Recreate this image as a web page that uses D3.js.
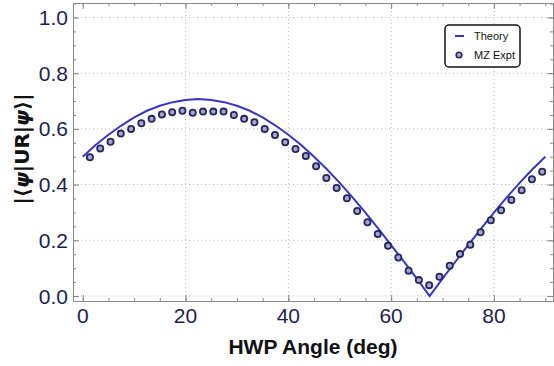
<!DOCTYPE html>
<html>
<head>
<meta charset="utf-8">
<script src="https://cdn.jsdelivr.net/npm/d3@7"></script>
<style>
  body { margin: 0; background: #fff; }
  svg { display: block; }
</style>
</head>
<body>
<svg id="svg" width="554" height="366"></svg>
<script>
// theory curve, sampled every 2.5 deg
const theoryAngles = [0, 2.5, 5, 7.5, 10, 12.5, 15, 17.5, 20, 22.5, 25, 27.5, 30, 32.5, 35, 37.5, 40, 42.5, 45,
  47.5, 50, 52.5, 55, 57.5, 60, 62.5, 65, 67.5, 70, 72.5, 75, 77.5, 80, 82.5, 85, 87.5, 90];
const theoryValues = [0.500, 0.542, 0.579, 0.612, 0.641, 0.665, 0.683, 0.696, 0.704, 0.707, 0.704, 0.696, 0.683,
  0.665, 0.641, 0.612, 0.579, 0.542, 0.500, 0.455, 0.406, 0.354, 0.299, 0.242, 0.183, 0.123, 0.062, 0.000,
  0.062, 0.123, 0.183, 0.242, 0.299, 0.354, 0.406, 0.455, 0.500];

// MZ experiment points
const exptAngles = [1.4, 3.4, 5.4, 7.4, 9.4, 11.4, 13.4, 15.4, 17.4, 19.4, 21.4, 23.4, 25.4, 27.4, 29.4,
  31.4, 33.4, 35.4, 37.4, 39.4, 41.4, 43.4, 45.4, 47.4, 49.4, 51.4, 53.4, 55.4, 57.4, 59.4, 61.4, 63.4,
  65.4, 67.4, 69.4, 71.4, 73.4, 75.4, 77.4, 79.4, 81.4, 83.4, 85.4, 87.4, 89.4];
const exptValues = [0.498, 0.530, 0.554, 0.583, 0.600, 0.620, 0.636, 0.652, 0.660, 0.665, 0.658, 0.662,
  0.662, 0.662, 0.650, 0.636, 0.624, 0.600, 0.578, 0.552, 0.528, 0.503, 0.466, 0.424, 0.388, 0.351, 0.305,
  0.265, 0.223, 0.180, 0.138, 0.091, 0.057, 0.039, 0.069, 0.109, 0.151, 0.184, 0.229, 0.272, 0.308, 0.345,
  0.380, 0.419, 0.446];

const xTicks = [0, 20, 40, 60, 80];
const yTicks = [0.0, 0.2, 0.4, 0.6, 0.8, 1.0];

const svg = d3.select("#svg");
const box = { left: 73, right: 553, top: 3, bottom: 301 };

const x = d3.scaleLinear().domain([-1.9, 91.5]).range([box.left, box.right]);
const y = d3.scaleLinear().domain([-0.018, 1.052]).range([box.bottom, box.top]);

const labelColor = "#1e1e4e";
const frameColor = "#8a8a8a";

// grid
svg.append("g")
  .selectAll("line")
  .data(xTicks.filter(d => d > 0))
  .join("line")
  .attr("x1", d => x(d)).attr("x2", d => x(d))
  .attr("y1", box.top).attr("y2", box.bottom)
  .attr("stroke", "#b8b8b8").attr("stroke-dasharray", "1,3");
svg.append("g")
  .selectAll("line")
  .data(yTicks)
  .join("line")
  .attr("x1", box.left).attr("x2", box.right)
  .attr("y1", d => y(d)).attr("y2", d => y(d))
  .attr("stroke", "#b8b8b8").attr("stroke-dasharray", "1,3");

// frame with inward ticks on every side
const xMinor = d3.range(0, 91, 5);
const yMinor = d3.range(0, 1.051, 0.05);

function frameSide(axisFn, scale, pos, horizontal) {
  const tr = horizontal ? `translate(0,${pos})` : `translate(${pos},0)`;
  svg.append("g")
    .attr("transform", tr)
    .call(axisFn(scale).tickValues(horizontal ? xMinor : yMinor).tickSize(3).tickFormat("").tickSizeOuter(0))
    .call(g => g.selectAll("path,line").attr("stroke", frameColor));
  svg.append("g")
    .attr("transform", tr)
    .call(axisFn(scale).tickValues(horizontal ? xTicks : yTicks).tickSize(6).tickFormat(""))
    .call(g => g.select("path").remove())
    .call(g => g.selectAll("line").attr("stroke", frameColor));
}
frameSide(d3.axisTop, x, box.bottom, true);
frameSide(d3.axisBottom, x, box.top, true);
frameSide(d3.axisRight, y, box.left, false);
frameSide(d3.axisLeft, y, box.right, false);

// tick labels
svg.append("g")
  .selectAll("text")
  .data(xTicks)
  .join("text")
  .attr("x", d => x(d)).attr("y", 323)
  .attr("text-anchor", "middle")
  .attr("font-family", "Liberation Sans, Arial, sans-serif")
  .attr("font-size", 21)
  .attr("fill", labelColor)
  .text(d => d);
svg.append("g")
  .selectAll("text")
  .data(yTicks)
  .join("text")
  .attr("x", 68).attr("y", d => y(d))
  .attr("dy", "0.36em")
  .attr("text-anchor", "end")
  .attr("font-family", "Liberation Sans, Arial, sans-serif")
  .attr("font-size", 21)
  .attr("fill", labelColor)
  .text(d => d.toFixed(1));

// axis titles
svg.append("text")
  .attr("x", 313).attr("y", 354)
  .attr("text-anchor", "middle")
  .attr("font-family", "Liberation Sans, Arial, sans-serif")
  .attr("font-weight", "bold")
  .attr("font-size", 21)
  .attr("fill", "#111")
  .text("HWP Angle (deg)");

const yTitle = svg.append("text")
  .attr("transform", "translate(29,149) rotate(-90)")
  .attr("text-anchor", "middle")
  .attr("font-family", "DejaVu Sans, Liberation Sans, sans-serif")
  .attr("font-weight", "bold")
  .attr("font-size", 20)
  .attr("fill", "#111");
[["|⟨", null], ["ψ", "italic"], ["|UR|", null], ["ψ", "italic"], ["⟩|", null]].forEach(([t, st]) => {
  const span = yTitle.append("tspan").text(t);
  if (st) span.attr("font-style", st);
});

// theory line
const theory = theoryAngles.map((a, i) => [a, theoryValues[i]]);
svg.append("path")
  .datum(theory)
  .attr("fill", "none")
  .attr("stroke", "#3636c8")
  .attr("stroke-width", 2)
  .attr("d", d3.line().x(d => x(d[0])).y(d => y(d[1])));

// experiment points
svg.append("g")
  .selectAll("circle")
  .data(exptAngles.map((a, i) => [a, exptValues[i]]))
  .join("circle")
  .attr("cx", d => x(d[0])).attr("cy", d => y(d[1]))
  .attr("r", 3.1)
  .attr("fill", "#a6a6cc")
  .attr("stroke", "#26265e")
  .attr("stroke-width", 1.8);

// legend
const legend = svg.append("g").attr("transform", "translate(445,25)");
legend.append("rect")
  .attr("width", 75).attr("height", 42)
  .attr("rx", 4)
  .attr("fill", "#fff")
  .attr("stroke", "#111")
  .attr("stroke-width", 1.5);
legend.append("line")
  .attr("x1", 10).attr("x2", 19).attr("y1", 11).attr("y2", 11)
  .attr("stroke", "#3636c8").attr("stroke-width", 2);
legend.append("circle")
  .attr("cx", 14).attr("cy", 30).attr("r", 2.8)
  .attr("fill", "#a6a6cc").attr("stroke", "#26265e").attr("stroke-width", 1.6);
legend.selectAll("text.lab")
  .data(["Theory", "MZ Expt"])
  .join("text")
  .attr("class", "lab")
  .attr("x", 29).attr("y", (d, i) => 11 + i * 19)
  .attr("dy", "0.35em")
  .attr("font-family", "Liberation Sans, Arial, sans-serif")
  .attr("font-size", 11)
  .attr("fill", "#111")
  .text(d => d);
</script>
</body>
</html>
